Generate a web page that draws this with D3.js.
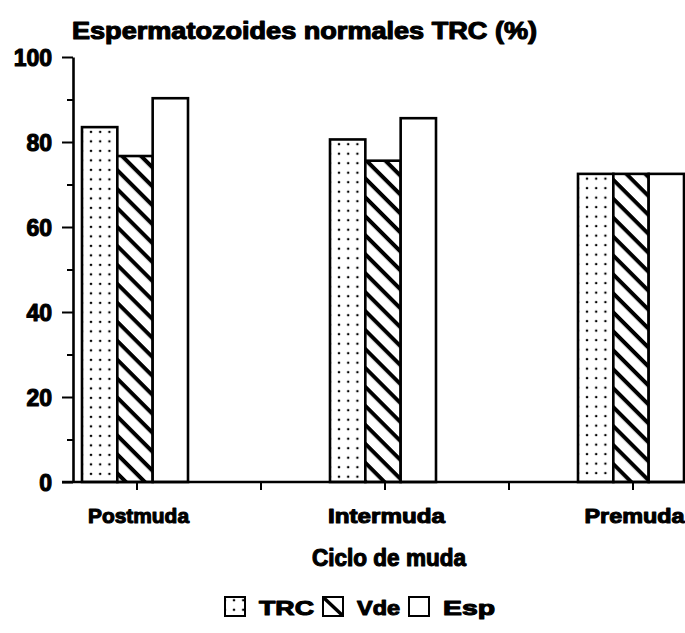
<!DOCTYPE html>
<html>
<head>
<meta charset="utf-8">
<script src="https://cdn.jsdelivr.net/npm/d3@7"></script>
<style>
  body { margin: 0; background: #fff; }
  text { font-family: "Liberation Sans", Arial, sans-serif; font-weight: bold; fill: #000; stroke: #000; stroke-width: 1.1px; stroke-linejoin: round; }
</style>
</head>
<body>
<svg id="chart" width="685" height="633"></svg>
<script>
// Molt-cycle stages and the three series per stage (%)
const categories = ["Postmuda", "Intermuda", "Premuda"];
const seriesNames = ["TRC", "Vde", "Esp"];
const trcValues = [83.5, 80.6, 72.5];
const vdeValues = [76.7, 75.6, 72.5];
const espValues = [90.3, 85.6, 72.5];
const yTickValues = [0, 20, 40, 60, 80, 100];
const yMinorTickValues = [10, 30, 50, 70, 90];
const titleText = "Espermatozoides normales TRC (%)";
const xAxisTitle = "Ciclo de muda";

// Horizontal extent each label is set to
const categoryLabelWidths = [101, 117, 100];
const legendLabelWidths = [55, 43, 52];

const W = 685, H = 633;
const svg = d3.select("#chart");
const defs = svg.append("defs");

const x = d3.scaleBand().domain(categories).range([13, 757]);
const inner = d3.scaleBand().domain(seriesNames)
  .range([x.bandwidth() / 2 - 55, x.bandwidth() / 2 + 51]);
const y = d3.scaleLinear().domain([0, 100]).range([482, 57]);

const valuesBySeries = { TRC: trcValues, Vde: vdeValues, Esp: espValues };
const bars = [];
categories.forEach((c, i) => {
  seriesNames.forEach(s => bars.push({ cat: c, series: s, value: valuesBySeries[s][i], idx: bars.length }));
});

// Fill patterns: dots for TRC, back-slash hatching for Vde, plain for Esp
function dotPattern(id, ox, oy) {
  const p = defs.append("pattern").attr("id", id).attr("patternUnits", "userSpaceOnUse")
    .attr("x", ox).attr("y", oy).attr("width", 9.2).attr("height", 9.5);
  p.append("rect").attr("width", 9.2).attr("height", 9.5).attr("fill", "#fff");
  p.append("circle").attr("cx", 4.6).attr("cy", 4.75).attr("r", 1.25).attr("fill", "#000");
}
function hatchPattern(id, ox, oy) {
  const p = defs.append("pattern").attr("id", id).attr("patternUnits", "userSpaceOnUse")
    .attr("x", ox).attr("y", oy).attr("width", 10).attr("height", 13.4)
    .attr("patternTransform", "rotate(45)");
  p.append("rect").attr("width", 10).attr("height", 13.4).attr("fill", "#fff");
  p.append("rect").attr("y", 0).attr("width", 10).attr("height", 4).attr("fill", "#000");
}
function fillFor(series, id, ox, oy) {
  if (series === "TRC") { dotPattern(id, ox + 4.4, oy); return `url(#${id})`; }
  if (series === "Vde") { hatchPattern(id, ox, oy); return `url(#${id})`; }
  return "#fff";
}

// Bars
svg.append("g").selectAll("rect").data(bars).join("rect")
  .attr("x", d => x(d.cat) + inner(d.series))
  .attr("y", d => y(d.value))
  .attr("width", inner.bandwidth())
  .attr("height", d => y(0) - y(d.value))
  .attr("fill", d => fillFor(d.series, "pat" + d.idx, x(d.cat) + inner(d.series), y(d.value)))
  .attr("stroke", "#000")
  .attr("stroke-width", 2.6);

// Y axis: major ticks with labels, minor ticks without
const yAxisG = svg.append("g").attr("transform", "translate(73,0)")
  .call(d3.axisLeft(y).tickValues(yTickValues).tickSize(11).tickSizeOuter(0).tickPadding(10)
    .tickFormat(d3.format("d")));
yAxisG.attr("font-family", null).attr("font-size", null);
yAxisG.select(".domain").attr("stroke-width", 2.6);
yAxisG.selectAll(".tick line").attr("stroke-width", 2);
yAxisG.selectAll(".tick text").attr("font-size", 23).attr("dy", "0.36em");

const yMinorG = svg.append("g").attr("transform", "translate(73,0)")
  .call(d3.axisLeft(y).tickValues(yMinorTickValues).tickSize(6).tickFormat(""));
yMinorG.select(".domain").remove();
yMinorG.selectAll(".tick line").attr("stroke-width", 2);

// X axis: ticks at stage centres and between stages
const xAxisG = svg.append("g").attr("transform", `translate(0,${y(0)})`)
  .call(d3.axisBottom(x).tickSize(8).tickFormat(""));
xAxisG.select(".domain").remove();
xAxisG.selectAll(".tick line").attr("stroke-width", 2);
const boundaries = categories.slice(0, -1).map(c => x(c) + x.bandwidth());
xAxisG.selectAll(".bound").data(boundaries).join("line")
  .attr("class", "bound")
  .attr("x1", d => d).attr("x2", d => d).attr("y1", 0).attr("y2", 8)
  .attr("stroke", "#000").attr("stroke-width", 2);
xAxisG.append("line").attr("x1", 62).attr("x2", W).attr("y1", 0).attr("y2", 0)
  .attr("stroke", "#000").attr("stroke-width", 2.6);

// Category labels
svg.append("g").selectAll("text").data(categories).join("text")
  .attr("x", d => x(d) + x.bandwidth() / 2 + 1.5)
  .attr("y", 523)
  .attr("text-anchor", "middle")
  .attr("font-size", 21)
  .attr("textLength", (d, i) => categoryLabelWidths[i])
  .attr("lengthAdjust", "spacingAndGlyphs")
  .text(d => d);

// Axis title
svg.append("text")
  .attr("x", 389).attr("y", 566)
  .attr("text-anchor", "middle")
  .attr("font-size", 23)
  .attr("textLength", 154).attr("lengthAdjust", "spacingAndGlyphs")
  .text(xAxisTitle);

// Chart title
svg.append("text")
  .attr("x", 72).attr("y", 39)
  .attr("font-size", 23)
  .attr("textLength", 465).attr("lengthAdjust", "spacingAndGlyphs")
  .text(titleText);

// Legend
const legend = svg.append("g").attr("transform", "translate(0,597)");
const legendBox = 19;
let lx = 225;
seriesNames.forEach((s, i) => {
  const fill = fillFor(s, "leg" + i, lx, 597);
  legend.append("rect")
    .attr("x", lx).attr("y", 0).attr("width", legendBox + 1).attr("height", legendBox)
    .attr("fill", s === "Vde" ? "#fff" : fill)
    .attr("stroke", "#000").attr("stroke-width", 2);
  if (s === "Vde") {
    legend.append("line").attr("x1", lx + 1).attr("y1", 1).attr("x2", lx + legendBox).attr("y2", legendBox - 1)
      .attr("stroke", "#000").attr("stroke-width", 3.5);
  }
  legend.append("text")
    .attr("x", lx + legendBox + 15).attr("y", 18)
    .attr("font-size", 21)
    .attr("textLength", legendLabelWidths[i]).attr("lengthAdjust", "spacingAndGlyphs")
    .text(s);
  lx = lx + legendBox + 15 + legendLabelWidths[i] + 9;
});
</script>
</body>
</html>
